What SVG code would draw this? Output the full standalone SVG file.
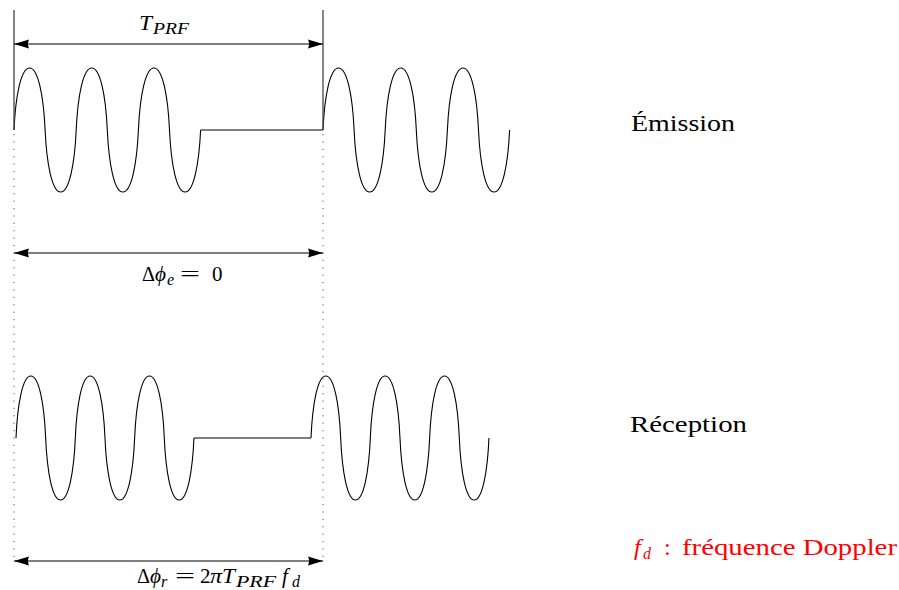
<svg xmlns="http://www.w3.org/2000/svg" width="899" height="590" viewBox="0 0 899 590">
  <style>
    .wave { fill: none; stroke: #000; stroke-width: 1.1; stroke-linejoin: round; }
    .line { fill: none; stroke: #000; stroke-width: 1; }
    .vbar { fill: none; stroke: #444; stroke-width: 1.3; }
    .dot { fill: none; stroke: #555; stroke-width: 1; stroke-dasharray: 1.2 6.2; }
    .dim { fill: none; stroke: #000; stroke-width: 1; }
    text { font-family: "Liberation Serif", "DejaVu Serif", serif; fill: #000; }
    .it { font-style: italic; }
    .lbl { font-size: 24px; }
    .math { font-size: 21px; }
    .sub { font-size: 16px; font-style: italic; }
    .red { fill: #ff0000; }
  </style>
  <defs>
    <marker id="arr" markerUnits="userSpaceOnUse" markerWidth="15" markerHeight="10" viewBox="0 0 15 10" refX="15" refY="5" orient="auto-start-reverse">
      <path d="M0,0.6 L15,5 L0,9.4 Q2,5 0,0.6 Z" fill="#000"/>
    </marker>
  </defs>

  <g id="emission">
    <path class="wave" d="M14,130 c1.56,-34.1 7,-62 15.55,-62 s14,27.9 15.55,62 s7,62 15.55,62 s14,-27.9 15.55,-62 s7,-62 15.55,-62 s14,27.9 15.55,62 s7,62 15.55,62 s14,-27.9 15.55,-62 s7,-62 15.55,-62 s14,27.9 15.55,62 s7,62 15.55,62 s14,-27.9 15.55,-62"/>
    <path class="line" d="M200.6,130 H323"/>
    <path class="wave" d="M323,130 c1.56,-34.1 7,-62 15.55,-62 s14,27.9 15.55,62 s7,62 15.55,62 s14,-27.9 15.55,-62 s7,-62 15.55,-62 s14,27.9 15.55,62 s7,62 15.55,62 s14,-27.9 15.55,-62 s7,-62 15.55,-62 s14,27.9 15.55,62 s7,62 15.55,62 s14,-27.9 15.55,-62"/>
    <text class="lbl" x="631" y="131" textLength="104" lengthAdjust="spacingAndGlyphs">Émission</text>
  </g>

  <g id="reception">
    <path class="wave" d="M16,438 c1.48,-34.1 6.67,-62 14.83,-62 s13.35,27.9 14.83,62 s6.67,62 14.83,62 s13.35,-27.9 14.83,-62 s6.67,-62 14.83,-62 s13.35,27.9 14.83,62 s6.67,62 14.83,62 s13.35,-27.9 14.83,-62 s6.67,-62 14.83,-62 s13.35,27.9 14.83,62 s6.67,62 14.83,62 s13.35,-27.9 14.83,-62"/>
    <path class="line" d="M194,438 H311"/>
    <path class="wave" d="M311,438 c1.48,-34.1 6.67,-62 14.83,-62 s13.35,27.9 14.83,62 s6.67,62 14.83,62 s13.35,-27.9 14.83,-62 s6.67,-62 14.83,-62 s13.35,27.9 14.83,62 s6.67,62 14.83,62 s13.35,-27.9 14.83,-62 s6.67,-62 14.83,-62 s13.35,27.9 14.83,62 s6.67,62 14.83,62 s13.35,-27.9 14.83,-62"/>
    <text class="lbl" x="630" y="432" textLength="117" lengthAdjust="spacingAndGlyphs">Réception</text>
  </g>

  <g id="connectors">
    <path class="vbar" d="M14,10 V130"/>
    <path class="vbar" d="M323,10 V130"/>
    <path class="dot" d="M14,134 V561"/>
    <path class="dot" d="M323,134 V561"/>
    <path class="dim" d="M14,44 H323" marker-start="url(#arr)" marker-end="url(#arr)"/>
    <path class="dim" d="M14,253 H323" marker-start="url(#arr)" marker-end="url(#arr)"/>
    <path class="dim" d="M14,561 H323" marker-start="url(#arr)" marker-end="url(#arr)"/>
  </g>

  <g id="label-tprf">
    <text class="math"><tspan class="it" x="139" y="30" textLength="13" lengthAdjust="spacingAndGlyphs">T</tspan><tspan class="sub" x="153" y="34" textLength="36" lengthAdjust="spacingAndGlyphs">PRF</tspan></text>
  </g>

  <g id="label-dphi-e">
    <text class="math"><tspan x="142" y="281" textLength="13" lengthAdjust="spacingAndGlyphs">Δ</tspan><tspan class="it" x="155" y="281" textLength="11" lengthAdjust="spacingAndGlyphs">ϕ</tspan><tspan class="sub" x="167" y="285">e</tspan><tspan x="180" y="281" textLength="20" lengthAdjust="spacingAndGlyphs">=</tspan><tspan x="212" y="281">0</tspan></text>
  </g>

  <g id="label-dphi-r">
    <text class="math"><tspan x="137" y="583" textLength="13" lengthAdjust="spacingAndGlyphs">Δ</tspan><tspan class="it" x="150" y="583" textLength="11" lengthAdjust="spacingAndGlyphs">ϕ</tspan><tspan class="sub" x="161" y="587">r</tspan><tspan x="175" y="583" textLength="20" lengthAdjust="spacingAndGlyphs">=</tspan><tspan x="200" y="583">2</tspan><tspan class="it" x="210" y="583" textLength="12" lengthAdjust="spacingAndGlyphs">π</tspan><tspan class="it" x="222" y="583" textLength="13" lengthAdjust="spacingAndGlyphs">T</tspan><tspan class="sub" x="236" y="587" textLength="40" lengthAdjust="spacingAndGlyphs">PRF</tspan><tspan class="it" x="282" y="583">f</tspan><tspan class="sub" x="292" y="587">d</tspan></text>
  </g>

  <g id="label-fd">
    <text class="lbl red"><tspan class="it" x="634" y="555">f</tspan><tspan class="sub" x="643" y="559">d</tspan><tspan x="664" y="555">:</tspan><tspan x="682" y="555" textLength="215" lengthAdjust="spacingAndGlyphs">fréquence Doppler</tspan></text>
  </g>
</svg>
